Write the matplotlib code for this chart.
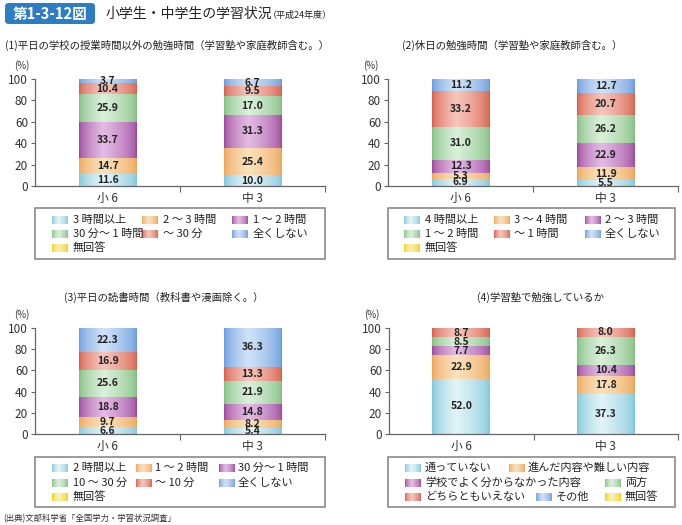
import numpy as np
import matplotlib
matplotlib.use("Agg")
import matplotlib.pyplot as plt
from matplotlib.patches import Rectangle, FancyBboxPatch

plt.rcParams['font.family'] = ['Noto Sans CJK JP', 'DejaVu Sans']

groups = ['小 6', '中 3']

# (1) weekday study time
labels1 = ['3 時間以上', '2 ～ 3 時間', '1 ～ 2 時間', '30 分～ 1 時間', '～ 30 分', '全くしない', '無回答']
sho1 = [11.6, 14.7, 33.7, 25.9, 10.4, 3.7, 0.0]
chu1 = [10.0, 25.4, 31.3, 17.0, 9.5, 6.7, 0.1]

# (2) holiday study time
labels2 = ['4 時間以上', '3 ～ 4 時間', '2 ～ 3 時間', '1 ～ 2 時間', '～ 1 時間', '全くしない', '無回答']
sho2 = [6.9, 5.3, 12.3, 31.0, 33.2, 11.2, 0.1]
chu2 = [5.5, 11.9, 22.9, 26.2, 20.7, 12.7, 0.1]

# (3) weekday reading time
labels3 = ['2 時間以上', '1 ～ 2 時間', '30 分～ 1 時間', '10 ～ 30 分', '～ 10 分', '全くしない', '無回答']
sho3 = [6.6, 9.7, 18.8, 25.6, 16.9, 22.3, 0.1]
chu3 = [5.4, 8.2, 14.8, 21.9, 13.3, 36.3, 0.1]

# (4) cram school
labels4 = ['通っていない', '進んだ内容や難しい内容', '学校でよく分からなかった内容', '両方',
           'どちらともいえない', 'その他', '無回答']
sho4 = [52.0, 22.9, 7.7, 8.5, 8.7, 0.1, 0.1]
chu4 = [37.3, 17.8, 10.4, 26.3, 8.0, 0.1, 0.1]

# (edge colour, centre colour) for the shaded bars
shades = [
    ((128, 198, 218), (226, 244, 248)),
    ((236, 165, 88), (251, 226, 188)),
    ((155, 72, 155), (228, 188, 228)),
    ((128, 190, 128), (218, 240, 218)),
    ((214, 94, 74), (246, 198, 188)),
    ((104, 155, 220), (208, 226, 248)),
    ((240, 205, 30), (252, 242, 172)),
]


def gradient(edge, centre, n=80):
    x = np.linspace(0, 1, n)
    peak = 0.42
    f = np.where(x < peak, x / peak, (1 - x) / (1 - peak)) ** 0.6
    e = np.array(edge) / 255.0
    c = np.array(centre) / 255.0
    return (e[None, :] + (c - e)[None, :] * f[:, None])[None, :, :]


W, H = 682, 525
fig = plt.figure(figsize=(W / 100, H / 100), dpi=100)


def fx(px):
    return px / W


def fy(py):
    return 1 - py / H


def draw_panel(rect, sho, chu):
    ax = fig.add_axes(rect)
    x = np.arange(len(groups))
    data = np.array([sho, chu])
    bottom = np.zeros(len(groups))
    for k in range(data.shape[1]):
        vals = data[:, k]
        bars = ax.bar(x, vals, width=0.4, bottom=bottom, color='none', linewidth=0)
        for p in bars.patches:
            if p.get_height() <= 0:
                continue
            ax.imshow(gradient(*shades[k]), aspect='auto', interpolation='bilinear',
                      extent=(p.get_x(), p.get_x() + p.get_width(), p.get_y(), p.get_y() + p.get_height()),
                      zorder=2)
        txt = [f'{v:.1f}' if v >= 1 else '' for v in vals]
        ax.bar_label(bars, labels=txt, label_type='center', fontsize=7.5,
                     fontweight='bold', color='#222222', zorder=5)
        bottom += vals
    ax.set_xlim(-0.5, 1.5)
    ax.set_ylim(0, 100)
    ax.set_xticks(x)
    ax.set_xticklabels(groups, fontsize=8.5, color='#333333')
    ax.set_xticks([0.5, 1.5], minor=True)
    ax.tick_params(axis='x', which='major', length=0, pad=4)
    ax.tick_params(axis='x', which='minor', length=4, width=0.8, color='#666666', direction='out')
    ax.set_yticks([0, 20, 40, 60, 80, 100])
    ax.tick_params(axis='y', length=3, width=0.8, color='#666666', labelsize=8.5,
                   labelcolor='#333333', pad=2)
    for s in ['top', 'right']:
        ax.spines[s].set_visible(False)
    for s in ['left', 'bottom']:
        ax.spines[s].set_color('#666666')
        ax.spines[s].set_linewidth(0.9)
    return ax


def swatch(px, py, k):
    w, h = 16, 8
    ax = fig.add_axes([fx(px), fy(py + h / 2), fx(w), h / H])
    ax.imshow(gradient(*shades[k]), aspect='auto', interpolation='bilinear')
    ax.axis('off')


def legend_box(x0, y0, x1, y1, items):
    fig.patches.append(Rectangle((fx(x0), fy(y1)), fx(x1 - x0), (y1 - y0) / H,
                                 transform=fig.transFigure, fill=False,
                                 edgecolor='#8a8a8a', linewidth=1.2))
    for k, (sx, tx, ty, lab) in enumerate(items):
        swatch(sx, ty, k)
        fig.text(fx(tx), fy(ty), lab, fontsize=8, color='#222222', va='center', ha='left')


# header
fig.patches.append(FancyBboxPatch((fx(5), fy(24)), fx(90), 21 / H,
                                  boxstyle='round,pad=0,rounding_size=0.006',
                                  transform=fig.transFigure, facecolor='#2d7dc3',
                                  edgecolor='none'))
fig.text(fx(50), fy(13.5), '第1-3-12図', color='white', fontsize=10.5,
         fontweight='bold', ha='center', va='center')
fig.text(fx(105), fy(14), '小学生・中学生の学習状況', fontsize=10, ha='left', va='center', color='#222222')
fig.text(fx(268), fy(15), '（平成24年度）', fontsize=6.5, ha='left', va='center', color='#222222')

# panel titles
fig.text(fx(5), fy(45), '(1)平日の学校の授業時間以外の勉強時間（学習塾や家庭教師含む。）',
         fontsize=7.5, ha='left', va='center', color='#222222')
fig.text(fx(512), fy(45), '(2)休日の勉強時間（学習塾や家庭教師含む。）',
         fontsize=7.5, ha='center', va='center', color='#222222')
fig.text(fx(164), fy(297), '(3)平日の読書時間（教科書や漫画除く。）',
         fontsize=7.5, ha='center', va='center', color='#222222')
fig.text(fx(540), fy(297), '(4)学習塾で勉強しているか',
         fontsize=7.5, ha='center', va='center', color='#222222')

for cx, cy in [(22, 66), (371, 66), (22, 315), (372, 315)]:
    fig.text(fx(cx), fy(cy), '(%)', fontsize=7, ha='center', va='center', color='#333333')

draw_panel([fx(35), fy(186), fx(290), 107 / H], sho1, chu1)
draw_panel([fx(388), fy(186), fx(290), 107 / H], sho2, chu2)
draw_panel([fx(35), fy(434), fx(290), 106 / H], sho3, chu3)
draw_panel([fx(389), fy(434), fx(289), 106 / H], sho4, chu4)

# legends
r1 = [220, 234, 248]
c1 = [(52, 73), (142, 163), (232, 253)]
legend_box(35, 208, 325, 259,
           [(c1[i % 3][0], c1[i % 3][1], r1[i // 3], labels1[i]) for i in range(7)])
c2 = [(404, 425), (494, 514), (585, 605)]
legend_box(388, 208, 675, 259,
           [(c2[i % 3][0], c2[i % 3][1], r1[i // 3], labels2[i]) for i in range(7)])
r3 = [468, 483, 497]
c3 = [(52, 73), (136, 155), (219, 238)]
legend_box(35, 457, 325, 507,
           [(c3[i % 3][0], c3[i % 3][1], r3[i // 3], labels3[i]) for i in range(7)])
pos4 = [(405, 425, 0), (509, 528, 0), (405, 425, 1), (605, 625, 1),
        (405, 425, 2), (536, 556, 2), (605, 625, 2)]
legend_box(388, 457, 675, 507,
           [(p[0], p[1], r3[p[2]], labels4[i]) for i, p in enumerate(pos4)])

fig.text(fx(3), fy(519), '(出典)文部科学省「全国学力・学習状況調査」', fontsize=6,
         ha='left', va='center', color='#333333')

fig.savefig('out.png', dpi=100)
